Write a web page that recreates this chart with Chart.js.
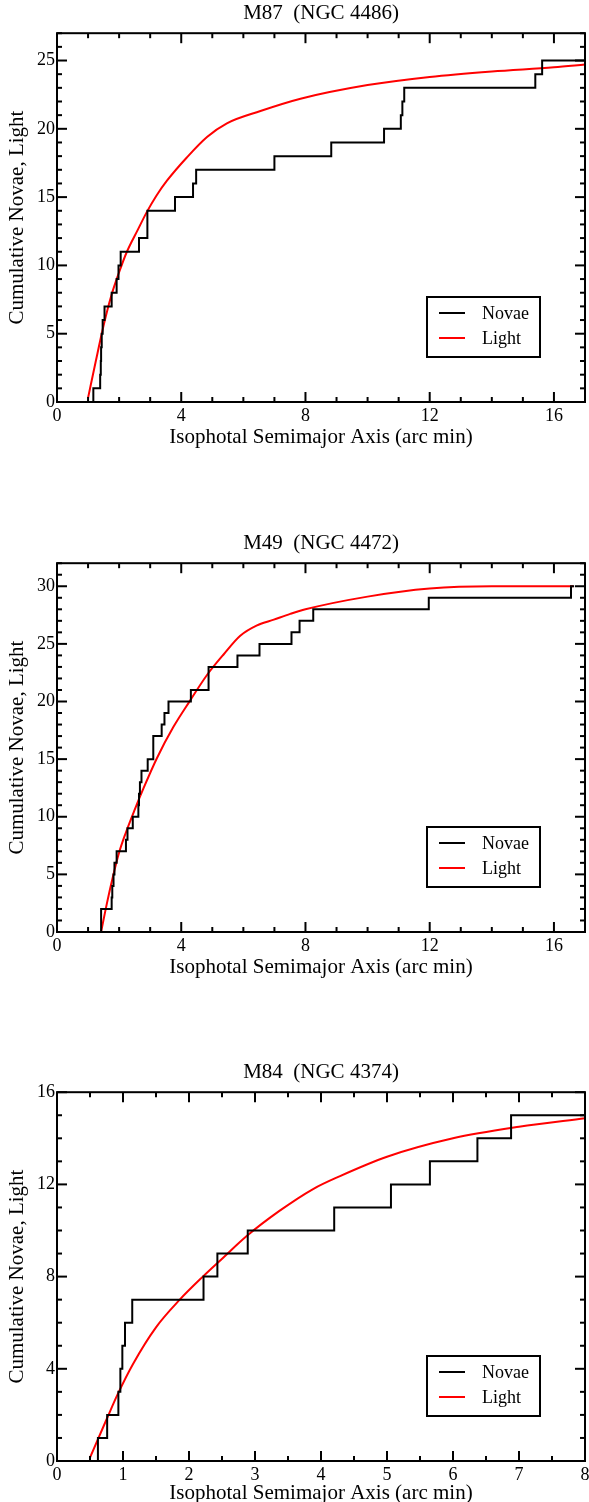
<!DOCTYPE html>
<html>
<head>
<meta charset="utf-8">
<script src="https://cdn.jsdelivr.net/npm/chart.js@4.4.0/dist/chart.umd.min.js"></script>
<style>
  html, body { margin: 0; padding: 0; background: #fff; overflow: hidden; width: 589px; height: 1502px; }
  .panel { position: absolute; left: 0; }
</style>
</head>
<body>
<div class="panel" style="top:0px"><canvas id="m87" width="589" height="460"></canvas></div>
<div class="panel" style="top:530px"><canvas id="m49" width="589" height="460"></canvas></div>
<div class="panel" style="top:1059px"><canvas id="m84" width="589" height="460"></canvas></div>
<script>
// M87 (NGC 4486)
var m87NovaeX = [0, 1.17, 1.39, 1.41, 1.42, 1.44, 1.47, 1.53, 1.76, 1.92, 1.98, 2.05, 2.64, 2.91, 3.80, 4.38, 4.48, 7.00, 8.83, 10.53, 11.07, 11.12, 11.18, 15.40, 15.62, 17];
var m87NovaeY = [0, 1, 2, 3, 4, 5, 6, 7, 8, 9, 10, 11, 12, 14, 15, 16, 17, 18, 19, 20, 21, 22, 23, 24, 25, 25];
var m87LightX = [1.0, 1.25, 1.5, 1.75, 2.0, 2.25, 2.6, 2.89, 3.2, 3.54, 4.18, 4.83, 5.47, 6.55, 7.84, 10, 12, 14, 16, 17];
var m87LightY = [0.3, 3.0, 5.6, 7.8, 9.5, 11.0, 12.6, 13.9, 15.1, 16.2, 17.9, 19.4, 20.4, 21.3, 22.2, 23.2, 23.8, 24.2, 24.5, 24.7];
var m87XTicks = [0, 4, 8, 12, 16];
var m87YTicks = [0, 5, 10, 15, 20, 25];

// M49 (NGC 4472)
var m49NovaeX = [0, 1.42, 1.76, 1.78, 1.82, 1.85, 1.92, 2.22, 2.27, 2.44, 2.62, 2.64, 2.67, 2.72, 2.92, 3.10, 3.37, 3.46, 3.59, 4.31, 4.88, 5.81, 6.52, 7.55, 7.81, 8.25, 11.97, 16.55, 16.65];
var m49NovaeY = [0, 2, 3, 4, 5, 6, 7, 8, 9, 10, 11, 12, 13, 14, 15, 17, 18, 19, 20, 21, 23, 24, 25, 26, 27, 28, 29, 30, 30];
var m49LightX = [1.42, 1.6, 1.8, 2.0, 2.2, 2.5, 2.79, 3.22, 3.75, 4.29, 4.83, 5.37, 5.9, 6.44, 6.98, 7.51, 8.0, 10.0, 12.0, 14.0, 16.63];
var m49LightY = [0, 2.4, 4.8, 6.9, 8.5, 10.6, 12.5, 15.1, 17.8, 20.1, 22.3, 24.1, 25.7, 26.6, 27.1, 27.6, 28.0, 29.1, 29.8, 30, 30];
var m49XTicks = [0, 4, 8, 12, 16];
var m49YTicks = [0, 5, 10, 15, 20, 25, 30];

// M84 (NGC 4374)
var m84NovaeX = [0, 0.62, 0.76, 0.93, 0.96, 0.99, 1.03, 1.14, 2.22, 2.43, 2.89, 4.20, 5.06, 5.65, 6.37, 6.88, 8];
var m84NovaeY = [0, 1, 2, 3, 4, 5, 6, 7, 8, 9, 10, 11, 12, 13, 14, 15, 15];
var m84LightX = [0.5, 0.75, 0.92, 1.15, 1.5, 1.86, 2.21, 2.51, 2.87, 3.37, 3.88, 4.28, 5.0, 6.0, 7.0, 8.0];
var m84LightY = [0.15, 1.8, 2.9, 4.2, 5.8, 7.0, 8.0, 8.8, 9.75, 10.85, 11.8, 12.35, 13.2, 14.0, 14.5, 14.87];
var m84XTicks = [0, 1, 2, 3, 4, 5, 6, 7, 8];
var m84YTicks = [0, 4, 8, 12, 16];

var serif = "'Liberation Serif', 'Times New Roman', serif";

function toPoints(xs, ys) {
    return xs.map(function (x, i) { return {x: x, y: ys[i]}; });
}

// box with inward ticks on all four sides
var frameTicks = {
    id: 'frameTicks',
    afterDatasetsDraw: function (chart, args, opts) {
        var ctx = chart.ctx, a = chart.chartArea, sx = chart.scales.x, sy = chart.scales.y;
        ctx.save();
        ctx.strokeStyle = '#000';
        ctx.lineWidth = 2;
        ctx.strokeRect(a.left, a.top, a.right - a.left, a.bottom - a.top);
        function seg(x1, y1, x2, y2) {
            ctx.beginPath(); ctx.moveTo(x1, y1); ctx.lineTo(x2, y2); ctx.stroke();
        }
        function isMajor(v, step) {
            return Math.abs(v / step - Math.round(v / step)) < 1e-6;
        }
        var n = Math.round((sx.max - sx.min) / opts.xMinor);
        for (var i = 0; i <= n; i++) {
            var v = sx.min + i * opts.xMinor;
            var len = isMajor(v, opts.xMajor) ? 10 : 5;
            var px = sx.getPixelForValue(v);
            seg(px, a.bottom, px, a.bottom - len);
            seg(px, a.top, px, a.top + len);
        }
        n = Math.round((sy.max - sy.min) / opts.yMinor);
        for (var j = 0; j <= n; j++) {
            var w = sy.min + j * opts.yMinor;
            var l2 = isMajor(w, opts.yMajor) ? 10 : 5;
            var py = sy.getPixelForValue(w);
            seg(a.left, py, a.left + l2, py);
            seg(a.right, py, a.right - l2, py);
        }
        ctx.restore();
    }
};

// legend box inside the plot, lower right
var legendBox = {
    id: 'legendBox',
    afterDraw: function (chart) {
        var ctx = chart.ctx, a = chart.chartArea;
        var w = 113, h = 60;
        var x0 = a.right - 45 - w, y0 = a.bottom - 45 - h;
        ctx.save();
        ctx.fillStyle = '#fff';
        ctx.fillRect(x0, y0, w, h);
        ctx.strokeStyle = '#000';
        ctx.lineWidth = 2;
        ctx.strokeRect(x0, y0, w, h);
        ctx.font = '18px ' + serif;
        ctx.textBaseline = 'middle';
        chart.data.datasets.forEach(function (ds, i) {
            var yy = y0 + 16 + i * 25;
            ctx.strokeStyle = ds.borderColor;
            ctx.beginPath(); ctx.moveTo(x0 + 12, yy); ctx.lineTo(x0 + 38, yy); ctx.stroke();
            ctx.fillStyle = '#000';
            ctx.fillText(ds.label, x0 + 55, yy + 1);
        });
        ctx.restore();
    }
};

function makeChart(id, title, novaeX, novaeY, lightX, lightY, xTicks, yTicks, xMax, yMax, xMinor, yMinor, titleGap) {
    return new Chart(document.getElementById(id), {
        type: 'line',
        data: {
            datasets: [
                {
                    label: 'Novae',
                    data: toPoints(novaeX, novaeY),
                    borderColor: '#000000',
                    borderWidth: 2,
                    pointRadius: 0,
                    stepped: 'before',
                    fill: false
                },
                {
                    label: 'Light',
                    data: toPoints(lightX, lightY),
                    borderColor: '#ff0000',
                    borderWidth: 2,
                    pointRadius: 0,
                    cubicInterpolationMode: 'monotone',
                    fill: false
                }
            ]
        },
        options: {
            responsive: false,
            animation: false,
            devicePixelRatio: 1,
            layout: {padding: {left: 0, right: 4, top: 0, bottom: 0}},
            plugins: {
                legend: {display: false},
                tooltip: {enabled: false},
                title: {
                    display: true,
                    text: title,
                    fullSize: false,
                    color: '#000',
                    font: {family: serif, size: 21, weight: 'normal'},
                    padding: {top: 1, bottom: 7}
                },
                frameTicks: {xMajor: xTicks[1] - xTicks[0], xMinor: xMinor, yMajor: yTicks[1] - yTicks[0], yMinor: yMinor}
            },
            scales: {
                x: {
                    type: 'linear',
                    min: 0,
                    max: xMax,
                    afterBuildTicks: function (s) { s.ticks = xTicks.map(function (v) { return {value: v}; }); },
                    afterFit: function (s) {
                        s.height = 58;
                        s.paddingLeft = 0;
                        s.paddingRight = 0;
                    },
                    grid: {display: false, drawTicks: false},
                    border: {display: false},
                    ticks: {color: '#000', font: {family: serif, size: 18}, padding: 3, maxRotation: 0, autoSkip: false},
                    title: {
                        display: true,
                        text: 'Isophotal Semimajor Axis (arc min)',
                        color: '#000',
                        font: {family: serif, size: 21},
                        padding: {top: 0, bottom: titleGap}
                    }
                },
                y: {
                    type: 'linear',
                    min: 0,
                    max: yMax,
                    afterBuildTicks: function (s) { s.ticks = yTicks.map(function (v) { return {value: v}; }); },
                    afterFit: function (s) { s.width = 57; },
                    grid: {display: false, drawTicks: false},
                    border: {display: false},
                    ticks: {color: '#000', font: {family: serif, size: 18}, padding: 2, autoSkip: false},
                    title: {
                        display: true,
                        text: 'Cumulative Novae, Light',
                        color: '#000',
                        font: {family: serif, size: 21},
                        padding: {top: 5, bottom: 0}
                    }
                }
            }
        },
        plugins: [frameTicks, legendBox]
    });
}

makeChart('m87', 'M87  (NGC 4486)', m87NovaeX, m87NovaeY, m87LightX, m87LightY, m87XTicks, m87YTicks, 17, 27, 1, 1, 10);
makeChart('m49', 'M49  (NGC 4472)', m49NovaeX, m49NovaeY, m49LightX, m49LightY, m49XTicks, m49YTicks, 17, 32, 1, 1, 10);
makeChart('m84', 'M84  (NGC 4374)', m84NovaeX, m84NovaeY, m84LightX, m84LightY, m84XTicks, m84YTicks, 8, 16, 0.5, 1, 13);
</script>
</body>
</html>
